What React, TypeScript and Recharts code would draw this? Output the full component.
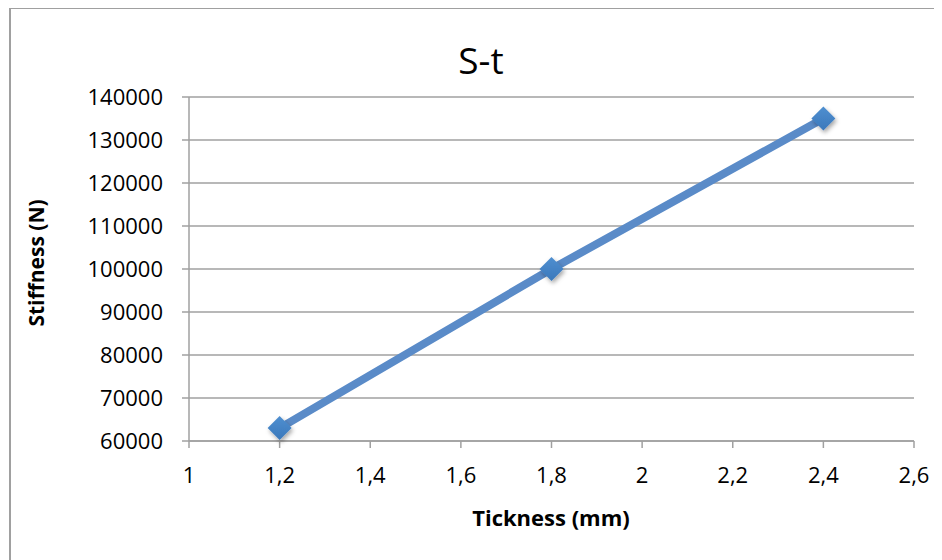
import { LineChart, Line, XAxis, YAxis, CartesianGrid } from "recharts";

const thickness = [1.2, 1.8, 2.4];
const stiffness = [63000, 100000, 135000];
const xTicks = [1, 1.2, 1.4, 1.6, 1.8, 2, 2.2, 2.4, 2.6];
const yTicks = [60000, 70000, 80000, 90000, 100000, 110000, 120000, 130000, 140000];

const data = thickness.map((t, i) => ({ t, s: stiffness[i] }));

const FONT = "'Open Sans', 'Liberation Sans', sans-serif";
const AXIS = "#a0a0a0";

const Diamond = (props: any) => {
  const { cx, cy } = props;
  if (cx == null || cy == null) return null;
  const r = 12;
  return (
    <g filter="url(#shadow)">
      <path
        d={`M${cx},${cy - r} L${cx + r},${cy} L${cx},${cy + r} L${cx - r},${cy} Z`}
        fill="url(#diamondFill)"
      />
    </g>
  );
};

export default function App() {
  return (
    <div style={{ position: "relative", width: 934, height: 552, fontFamily: FONT }}>
      <div
        style={{
          position: "absolute",
          left: 1,
          top: -1,
          width: 933,
          height: 553,
          borderLeft: `2px solid ${AXIS}`,
          borderTop: `2px solid ${AXIS}`,
          boxSizing: "border-box",
        }}
      />
      <div style={{ position: "absolute", left: -8, top: -8 }}>
        <LineChart
          width={942}
          height={560}
          data={data}
          margin={{ top: 97, right: 28, bottom: 40, left: 60 }}
        >
          <defs>
            <linearGradient id="diamondFill" x1="0" y1="0" x2="0" y2="1">
              <stop offset="0%" stopColor="#4f8fd0" />
              <stop offset="100%" stopColor="#3a78bb" />
            </linearGradient>
            <filter id="shadow" x="-50%" y="-50%" width="200%" height="200%">
              <feDropShadow dx="1.5" dy="2.5" stdDeviation="2" floodColor="#000" floodOpacity="0.35" />
            </filter>
          </defs>
          <CartesianGrid vertical={false} stroke={AXIS} strokeWidth={1.5} />
          <XAxis
            dataKey="t"
            type="number"
            domain={[1, 2.6]}
            ticks={xTicks}
            tickFormatter={(v: number) => String(Math.round(v * 10) / 10).replace(".", ",")}
            stroke={AXIS}
            strokeWidth={1.5}
            tickSize={7}
            tickMargin={19}
            height={79}
            tick={{ fill: "#000", fontSize: 22, fontFamily: FONT }}
            allowDataOverflow
          />
          <YAxis
            type="number"
            domain={[60000, 140000]}
            ticks={yTicks}
            stroke={AXIS}
            strokeWidth={1.5}
            tickSize={7}
            tickMargin={19}
            width={129}
            tick={{ fill: "#000", fontSize: 22, fontFamily: FONT }}
          />
          <Line
            dataKey="s"
            stroke="#5a8bc8"
            strokeWidth={8}
            dot={<Diamond />}
            activeDot={false}
            isAnimationActive={false}
          />
        </LineChart>
      </div>
      <div
        style={{
          position: "absolute",
          left: 481 - 8 - 100,
          width: 200,
          top: 36 - 8,
          textAlign: "center",
          fontSize: 37,
          lineHeight: "48px",
        }}
      >
        S-t
      </div>
      <div
        style={{
          position: "absolute",
          left: 551 - 8 - 150,
          width: 300,
          top: 502 - 8,
          textAlign: "center",
          fontSize: 22,
          fontWeight: 700,
          lineHeight: "30px",
        }}
      >
        Tickness (mm)
      </div>
      <div
        style={{
          position: "absolute",
          left: 36 - 8 - 100,
          top: 263 - 8 - 15,
          width: 200,
          textAlign: "center",
          fontSize: 21,
          fontWeight: 700,
          lineHeight: "30px",
          transform: "rotate(-90deg)",
        }}
      >
        Stiffness (N)
      </div>
    </div>
  );
}
